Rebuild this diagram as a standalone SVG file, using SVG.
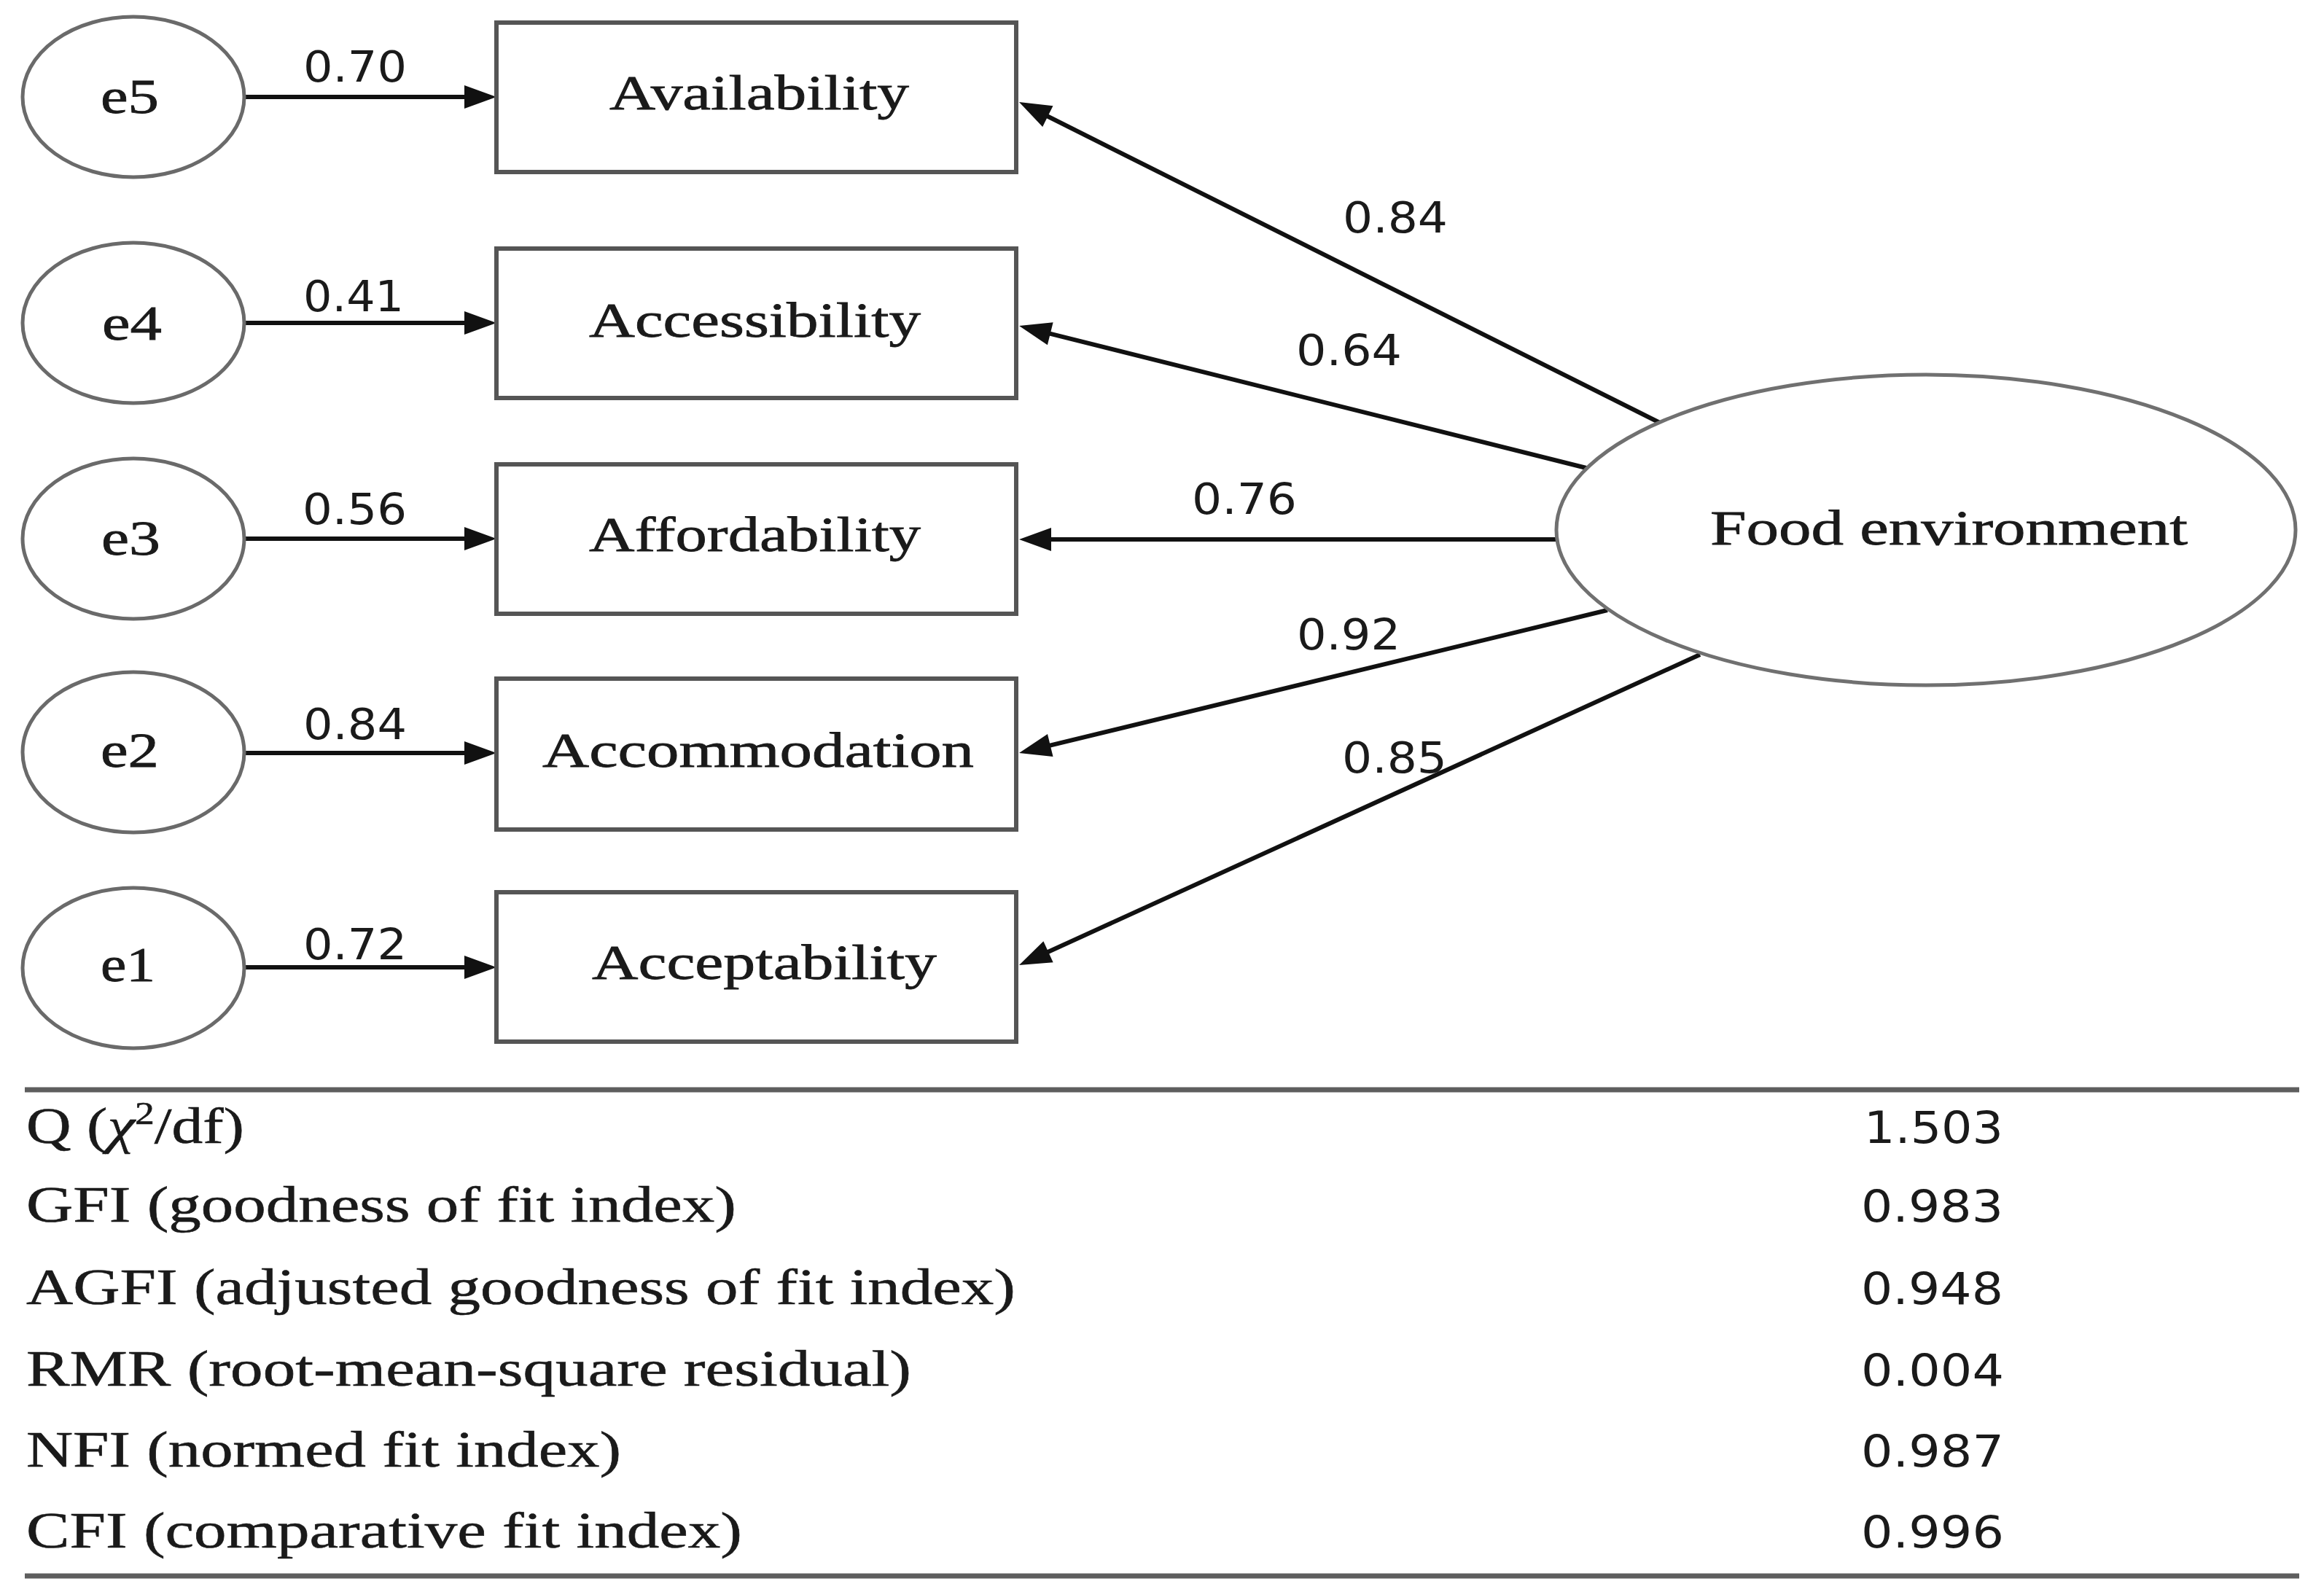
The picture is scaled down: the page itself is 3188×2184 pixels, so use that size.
<svg xmlns="http://www.w3.org/2000/svg" width="3188" height="2184" viewBox="0 0 3188 2184">
<style>
.bg{fill:#fff}
.err{fill:#fff;stroke:#6a6a6a;stroke-width:5}
.box{fill:#fff;stroke:#555;stroke-width:6}
.lat{fill:#fff;stroke:#707070;stroke-width:5}
.lab{font-family:"Liberation Serif","Times New Roman",serif;font-size:68px;fill:#1a1a1a;stroke:#1a1a1a;stroke-width:0.8}
.num{font-family:"DejaVu Sans","Liberation Sans",sans-serif;font-size:58px;fill:#1a1a1a}
.tab{font-family:"Liberation Serif","Times New Roman",serif;font-size:70px;fill:#1a1a1a;stroke:#1a1a1a;stroke-width:0.6}
.val{font-family:"DejaVu Sans","Liberation Sans",sans-serif;font-size:60px;fill:#1a1a1a}
.con{stroke:#111;stroke-width:6;fill:none}
.rule{stroke:#5e5e5e;stroke-width:7}
</style>
<defs>
<marker id="ah" markerUnits="userSpaceOnUse" markerWidth="44" markerHeight="32" refX="12" refY="16" orient="auto" overflow="visible">
<path d="M0,0 L44,16 L0,32 Z" fill="#111"/>
</marker>
</defs>
<rect class="bg" x="0" y="0" width="3188" height="2184"/>

<g id="connectors">
<line class="con" x1="335" y1="133" x2="649" y2="133" marker-end="url(#ah)"/>
<line class="con" x1="335" y1="443" x2="649" y2="443" marker-end="url(#ah)"/>
<line class="con" x1="335" y1="739" x2="649" y2="739" marker-end="url(#ah)"/>
<line class="con" x1="335" y1="1033" x2="649" y2="1033" marker-end="url(#ah)"/>
<line class="con" x1="335" y1="1327" x2="649" y2="1327" marker-end="url(#ah)"/>
<line class="con" x1="2277" y1="580" x2="1426.6" y2="154.3" marker-end="url(#ah)"/>
<line class="con" x1="2180" y1="643" x2="1429.1" y2="454.8" marker-end="url(#ah)"/>
<line class="con" x1="2136" y1="740" x2="1430" y2="740" marker-end="url(#ah)"/>
<line class="con" x1="2205" y1="837" x2="1429.1" y2="1025.4" marker-end="url(#ah)"/>
<line class="con" x1="2332" y1="898" x2="1427.1" y2="1310.7" marker-end="url(#ah)"/>
<text class="num" x="416" y="112" textLength="142" lengthAdjust="spacingAndGlyphs">0.70</text>
<text class="num" x="416" y="427" textLength="138" lengthAdjust="spacingAndGlyphs">0.41</text>
<text class="num" x="415" y="719" textLength="143" lengthAdjust="spacingAndGlyphs">0.56</text>
<text class="num" x="416" y="1014" textLength="142" lengthAdjust="spacingAndGlyphs">0.84</text>
<text class="num" x="416" y="1316" textLength="142" lengthAdjust="spacingAndGlyphs">0.72</text>
<text class="num" x="1842" y="319" textLength="144" lengthAdjust="spacingAndGlyphs">0.84</text>
<text class="num" x="1778" y="501" textLength="145" lengthAdjust="spacingAndGlyphs">0.64</text>
<text class="num" x="1635" y="705" textLength="144" lengthAdjust="spacingAndGlyphs">0.76</text>
<text class="num" x="1779" y="891" textLength="142" lengthAdjust="spacingAndGlyphs">0.92</text>
<text class="num" x="1841" y="1060" textLength="144" lengthAdjust="spacingAndGlyphs">0.85</text>
</g>

<g id="e5"><ellipse class="err" cx="183" cy="133" rx="152" ry="110"/><text class="lab" x="138" y="155" textLength="80" lengthAdjust="spacingAndGlyphs">e5</text></g>
<g id="e4"><ellipse class="err" cx="183" cy="443" rx="152" ry="110"/><text class="lab" x="140" y="466" textLength="82" lengthAdjust="spacingAndGlyphs">e4</text></g>
<g id="e3"><ellipse class="err" cx="183" cy="739" rx="152" ry="110"/><text class="lab" x="139" y="761" textLength="81" lengthAdjust="spacingAndGlyphs">e3</text></g>
<g id="e2"><ellipse class="err" cx="183" cy="1032" rx="152" ry="110"/><text class="lab" x="138" y="1052" textLength="80" lengthAdjust="spacingAndGlyphs">e2</text></g>
<g id="e1"><ellipse class="err" cx="183" cy="1328" rx="152" ry="110"/><text class="lab" x="138" y="1346" textLength="75" lengthAdjust="spacingAndGlyphs">e1</text></g>

<g id="availability"><rect class="box" x="681" y="31" width="713" height="205"/><text class="lab" x="836" y="150" textLength="411" lengthAdjust="spacingAndGlyphs">Availability</text></g>
<g id="accessibility"><rect class="box" x="681" y="341" width="713" height="205"/><text class="lab" x="808" y="462" textLength="455" lengthAdjust="spacingAndGlyphs">Accessibility</text></g>
<g id="affordability"><rect class="box" x="681" y="637" width="713" height="205"/><text class="lab" x="808" y="756" textLength="455" lengthAdjust="spacingAndGlyphs">Affordability</text></g>
<g id="accommodation"><rect class="box" x="681" y="931" width="713" height="207"/><text class="lab" x="744" y="1052" textLength="592" lengthAdjust="spacingAndGlyphs">Accommodation</text></g>
<g id="acceptability"><rect class="box" x="681" y="1224" width="713" height="205"/><text class="lab" x="812" y="1343" textLength="473" lengthAdjust="spacingAndGlyphs">Acceptability</text></g>

<g id="food-environment"><ellipse class="lat" cx="2642" cy="727" rx="507" ry="213"/><text class="lab" x="2346" y="747" textLength="655" lengthAdjust="spacingAndGlyphs">Food environment</text></g>

<g id="fit-table">
<line class="rule" x1="34" y1="1495" x2="3154" y2="1495"/>
<line class="rule" x1="34" y1="2162" x2="3154" y2="2162"/>
<text class="tab" x="36" y="1568" textLength="299" lengthAdjust="spacingAndGlyphs">Q (<tspan font-style="italic">χ</tspan><tspan font-size="44" dy="-26">2</tspan><tspan dy="26">/df)</tspan></text>
<text class="tab" x="36" y="1676" textLength="974" lengthAdjust="spacingAndGlyphs">GFI (goodness of fit index)</text>
<text class="tab" x="36" y="1789" textLength="1357" lengthAdjust="spacingAndGlyphs">AGFI (adjusted goodness of fit index)</text>
<text class="tab" x="36" y="1901" textLength="1214" lengthAdjust="spacingAndGlyphs">RMR (root-mean-square residual)</text>
<text class="tab" x="36" y="2012" textLength="816" lengthAdjust="spacingAndGlyphs">NFI (normed fit index)</text>
<text class="tab" x="36" y="2123" textLength="982" lengthAdjust="spacingAndGlyphs">CFI (comparative fit index)</text>
<text class="val" x="2557" y="1568" textLength="191" lengthAdjust="spacingAndGlyphs">1.503</text>
<text class="val" x="2553" y="1676" textLength="195" lengthAdjust="spacingAndGlyphs">0.983</text>
<text class="val" x="2553" y="1789" textLength="195" lengthAdjust="spacingAndGlyphs">0.948</text>
<text class="val" x="2553" y="1901" textLength="196" lengthAdjust="spacingAndGlyphs">0.004</text>
<text class="val" x="2553" y="2012" textLength="196" lengthAdjust="spacingAndGlyphs">0.987</text>
<text class="val" x="2553" y="2123" textLength="196" lengthAdjust="spacingAndGlyphs">0.996</text>
</g>
</svg>
